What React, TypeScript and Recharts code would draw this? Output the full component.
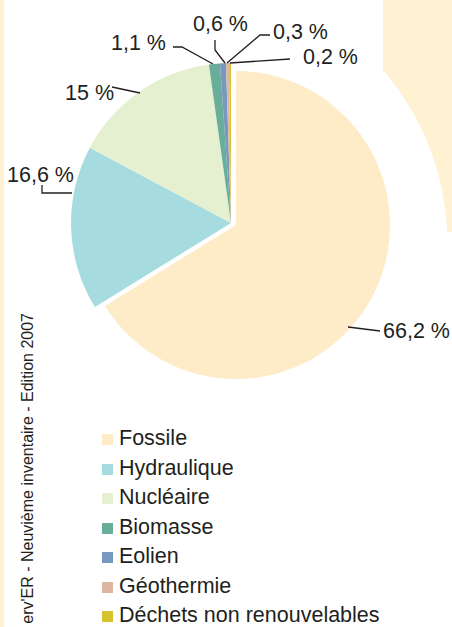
import { PieChart, Pie, Cell, Legend } from 'recharts';

const SOURCES = ['Fossile', 'Hydraulique', 'Nucléaire', 'Biomasse', 'Eolien', 'Géothermie', 'Déchets non renouvelables'];
const SHARES = [66.2, 16.6, 15, 1.1, 0.6, 0.3, 0.2];
const SHARE_LABELS = ['66,2 %', '16,6 %', '15 %', '1,1 %', '0,6 %', '0,3 %', '0,2 %'];
const COLORS = ['#feecc8', '#a6dce0', '#e4f0d0', '#68ae9a', '#7898bd', '#ddb7a1', '#d6c42e'];

const SOURCE_TEXT = "erv'ER - Neuvième inventaire - Edition 2007";

// leader lines + text, offsets from the pie centre
const LABEL_LAYOUT: { text: [number, number]; line: [number, number][] }[] = [
  { text: [152, 115], line: [[117, 104], [149, 108]] },
  { text: [-224, -41], line: [[-189, -38], [-189, -30], [-159, -30]] },
  { text: [-166, -123], line: [[-119, -136], [-91, -130]] },
  { text: [-120, -173], line: [[-58, -176], [-49, -176], [-18, -159]] },
  { text: [-38, -192], line: [[-16, -183], [-16, -173], [-6, -160]] },
  { text: [42, -184], line: [[39, -188], [29, -188], [-4, -160]] },
  { text: [72, -159], line: [[59, -164], [-1, -160]] },
];

const data = SOURCES.map((name, i) => ({ name, value: SHARES[i] }));

const FONT = '"Liberation Sans", Arial, sans-serif';
const INK = '#231f20';
const BG = '#fef2d3';

function renderLabel(props: any) {
  const { cx, cy, index } = props;
  const l = LABEL_LAYOUT[index];
  const pts = l.line.map(([dx, dy]) => `${cx + dx},${cy + dy}`).join(' ');
  return (
    <g key={`lbl-${index}`}>
      <polyline points={pts} fill="none" stroke={INK} strokeWidth={1.3} />
      <text x={cx + l.text[0]} y={cy + l.text[1]} fontSize={21.5} fontFamily={FONT} fill={INK}>
        {SHARE_LABELS[index]}
      </text>
    </g>
  );
}

function renderLegend() {
  return (
    <div style={{ fontFamily: FONT, fontSize: 21.5, lineHeight: '29.5px', color: INK }}>
      {SOURCES.map((s, i) => (
        <div key={s} style={{ whiteSpace: 'nowrap' }}>
          <span style={{ display: 'inline-block', width: 11, height: 11, background: COLORS[i], marginRight: 6 }} />
          {s}
        </div>
      ))}
    </div>
  );
}

export default function App() {
  return (
    <div style={{ position: 'fixed', left: 0, top: 0, width: 452, height: 627, background: '#fff', overflow: 'hidden' }}>
      <svg width={452} height={627} style={{ position: 'absolute', left: 0, top: 0 }}>
        <rect x={0} y={0} width={4} height={627} fill={BG} />
        <path d="M383,0 L452,0 L452,232 L447,232 A264,264 0 0 0 383,70 Z" fill={BG} />
        <text
          transform="translate(33,313) rotate(-90)"
          textAnchor="end"
          fontSize={16}
          fontFamily={FONT}
          fill={INK}
        >
          {SOURCE_TEXT}
        </text>
      </svg>
      <div style={{ position: 'absolute', left: 0, top: 0 }}>
        <PieChart width={452} height={627} margin={{ top: 0, right: 0, bottom: 0, left: 0 }}>
          <Pie
            data={data}
            dataKey="value"
            nameKey="name"
            cx={236}
            cy={225}
            outerRadius={154}
            startAngle={90}
            endAngle={-270}
            stroke="none"
            isAnimationActive={false}
          >
            {data.map((d, i) => (
              <Cell key={d.name} fill={i === 0 ? COLORS[0] : 'none'} />
            ))}
          </Pie>
          <Pie
            data={data}
            dataKey="value"
            nameKey="name"
            cx={231}
            cy={223}
            outerRadius={160}
            startAngle={90}
            endAngle={-270}
            stroke="none"
            label={renderLabel}
            labelLine={false}
            isAnimationActive={false}
          >
            {data.map((d, i) => (
              <Cell key={d.name} fill={i === 0 ? 'none' : COLORS[i]} />
            ))}
          </Pie>
          <Legend
            layout="vertical"
            content={renderLegend}
            wrapperStyle={{ position: 'absolute', left: 102, top: 424, width: 340 }}
          />
        </PieChart>
      </div>
    </div>
  );
}
